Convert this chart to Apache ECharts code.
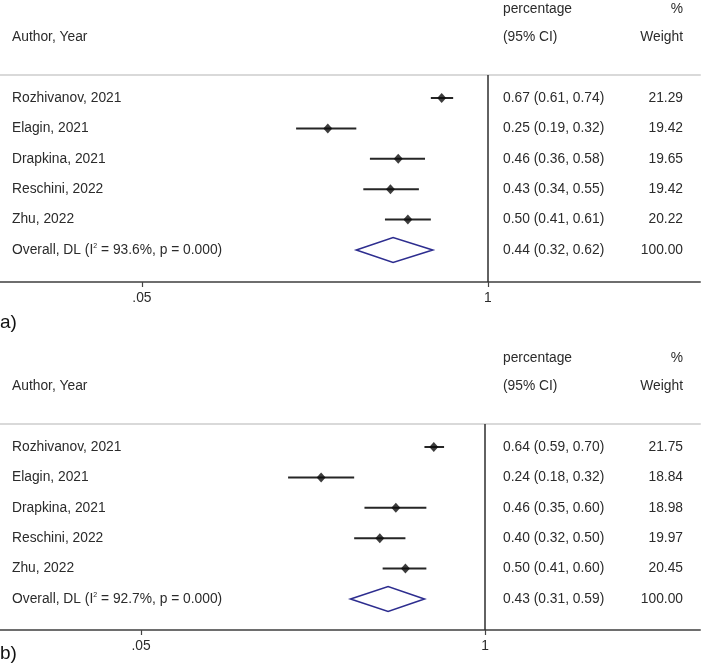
<!DOCTYPE html>
<html>
<head>
<meta charset="utf-8">
<script src="https://cdn.jsdelivr.net/npm/echarts@6/dist/echarts.min.js"></script>
<style>html,body{margin:0;padding:0;background:#fff;}#chart{width:703px;height:665px;}</style>
</head>
<body>
<div id="chart"></div>
<script>
// ---- data ----
const studies = ['Rozhivanov, 2021', 'Elagin, 2021', 'Drapkina, 2021', 'Reschini, 2022', 'Zhu, 2022'];

const aEst = [0.67, 0.25, 0.46, 0.43, 0.50];
const aLow = [0.61, 0.19, 0.36, 0.34, 0.41];
const aHigh = [0.74, 0.32, 0.58, 0.55, 0.61];
const aWeight = [21.29, 19.42, 19.65, 19.42, 20.22];
const aOverall = [0.44, 0.32, 0.62];   // estimate, low, high
const aI2 = '93.6%';
const aP = '0.000';

const bEst = [0.64, 0.24, 0.46, 0.40, 0.50];
const bLow = [0.59, 0.18, 0.35, 0.32, 0.41];
const bHigh = [0.70, 0.32, 0.60, 0.50, 0.60];
const bWeight = [21.75, 18.84, 18.98, 19.97, 20.45];
const bOverall = [0.43, 0.31, 0.59];
const bI2 = '92.7%';
const bP = '0.000';

const tickValues = [0.05, 1];
const tickLabels = ['.05', '1'];
const overallWeight = '100.00';

// ---- layout / style ----
const FONT = '"Liberation Sans", Arial, sans-serif';
const FS = 13.8;
const TXT = '#2b2b2b';

function fmt(v) { return v.toFixed(2); }

const chart = echarts.init(document.getElementById('chart'), null, {renderer: 'canvas'});

const grids = [], xAxes = [], yAxes = [], series = [];

function addPanel(k, cfg) {
  grids.push({left: 0, width: 700, top: cfg.top, height: cfg.height, containLabel: false});
  const xBottom = xAxes.length;
  xAxes.push({
    type: 'log', logBase: 10, gridIndex: k, min: cfg.xmin, max: cfg.xmax, position: 'bottom',
    axisLine: {show: true, onZero: false, lineStyle: {color: '#6e6e6e', width: 2}},
    axisTick: {show: true, customValues: tickValues, length: 5, lineStyle: {color: '#444', width: 1.2}},
    axisLabel: {show: true, customValues: tickValues, margin: 9, color: TXT, fontFamily: FONT, fontSize: FS,
      formatter: function (v) {
        let best = 0;
        for (let i = 1; i < tickValues.length; i++) {
          if (Math.abs(Math.log(v / tickValues[i])) < Math.abs(Math.log(v / tickValues[best]))) best = i;
        }
        return tickLabels[best];
      }},
    splitLine: {show: false}
  });
  xAxes.push({
    type: 'log', logBase: 10, gridIndex: k, position: 'top', min: cfg.xmin, max: cfg.xmax,
    axisLine: {show: true, onZero: false, lineStyle: {color: '#d9d9d9', width: 2}},
    axisTick: {show: false}, axisLabel: {show: false}, splitLine: {show: false}
  });
  yAxes.push({type: 'value', gridIndex: k, inverse: true, min: -0.757, max: cfg.ymax, show: false});
  const yi = k;

  // confidence intervals
  series.push({
    type: 'custom', xAxisIndex: xBottom, yAxisIndex: yi, silent: true,
    data: cfg.low.map((l, i) => [l, cfg.high[i], i]),
    encode: {x: [0, 1], y: 2},
    renderItem: function (params, api) {
      const p1 = api.coord([api.value(0), api.value(2)]);
      const p2 = api.coord([api.value(1), api.value(2)]);
      return {type: 'line', shape: {x1: p1[0], y1: p1[1], x2: p2[0], y2: p2[1]},
        style: {stroke: '#262626', lineWidth: 2}};
    }
  });
  // point estimates + null line
  series.push({
    type: 'scatter', xAxisIndex: xBottom, yAxisIndex: yi, silent: true,
    data: cfg.est.map((e, i) => [e, i]),
    symbol: 'diamond', symbolSize: [9, 10],
    itemStyle: {color: '#0d0d0d'},
    markLine: {
      silent: true, symbol: 'none', animation: false,
      label: {show: false},
      lineStyle: {color: '#2e2e2e', width: 1.5, type: 'solid'},
      data: [{xAxis: 1}]
    }
  });
  // overall diamond
  series.push({
    type: 'custom', xAxisIndex: xBottom, yAxisIndex: yi, silent: true,
    data: [[cfg.overall[1], cfg.overall[0], cfg.overall[2], studies.length]],
    encode: {x: [0, 1, 2], y: 3},
    renderItem: function (params, api) {
      const r = api.value(3);
      const pl = api.coord([api.value(0), r]);
      const pc = api.coord([api.value(1), r]);
      const ph = api.coord([api.value(2), r]);
      const h = 12.5;
      return {type: 'polygon',
        shape: {points: [[pl[0], pl[1]], [pc[0], pc[1] - h], [ph[0], ph[1]], [pc[0], pc[1] + h]]},
        style: {fill: 'none', stroke: '#2d2d8f', lineWidth: 1.6}};
    }
  });
  // text columns
  const rows = [];
  studies.forEach((s, i) => rows.push({row: i, label: s, est: fmt(cfg.est[i]) + ' (' + fmt(cfg.low[i]) + ', ' + fmt(cfg.high[i]) + ')', w: fmt(cfg.weight[i])}));
  rows.push({row: studies.length, label: 'Overall, DL (I{sup|2} = ' + cfg.i2 + ', p = ' + cfg.p + ')',
    est: fmt(cfg.overall[0]) + ' (' + fmt(cfg.overall[1]) + ', ' + fmt(cfg.overall[2]) + ')', w: overallWeight});
  rows.push({row: -2.93, label: '', est: 'percentage', w: '%'});
  rows.push({row: -2, label: 'Author, Year', est: '(95% CI)', w: 'Weight'});
  series.push({
    type: 'custom', xAxisIndex: xBottom, yAxisIndex: yi, silent: true, clip: false,
    data: rows.map(r => [1, r.row]),
    encode: {x: 0, y: 1},
    renderItem: function (params, api) {
      const r = rows[params.dataIndex];
      const y = api.coord([1, api.value(1)])[1];
      const base = {fontFamily: FONT, fontSize: FS, fill: TXT, verticalAlign: 'middle'};
      return {type: 'group', children: [
        {type: 'text', x: 12, y: y, style: Object.assign({}, base, {text: r.label, align: 'left',
          rich: {sup: {fontSize: 7, fontFamily: FONT, fill: TXT, verticalAlign: 'top', padding: [0, 0, 8, 0]}}})},
        {type: 'text', x: 503, y: y, style: Object.assign({}, base, {text: r.est, align: 'left'})},
        {type: 'text', x: 683, y: y, style: Object.assign({}, base, {text: r.w, align: 'right'})}
      ]};
    }
  });
}

addPanel(0, {top: 75, height: 207, ymax: 6.053, xmin: 0.01464, xmax: 6.27,
  est: aEst, low: aLow, high: aHigh, weight: aWeight, overall: aOverall, i2: aI2, p: aP});
addPanel(1, {top: 424, height: 206, ymax: 6.02, xmin: 0.01465, xmax: 6.50,
  est: bEst, low: bLow, high: bHigh, weight: bWeight, overall: bOverall, i2: bI2, p: bP});

chart.setOption({
  animation: false,
  backgroundColor: '#fff',
  grid: grids, xAxis: xAxes, yAxis: yAxes, series: series,
  graphic: [
    {type: 'text', left: 0, top: 313, style: {text: 'a)', fontSize: 19, fontFamily: FONT, fill: '#111'}},
    {type: 'text', left: 0, top: 644, style: {text: 'b)', fontSize: 19, fontFamily: FONT, fill: '#111'}}
  ]
});
</script>
</body>
</html>
